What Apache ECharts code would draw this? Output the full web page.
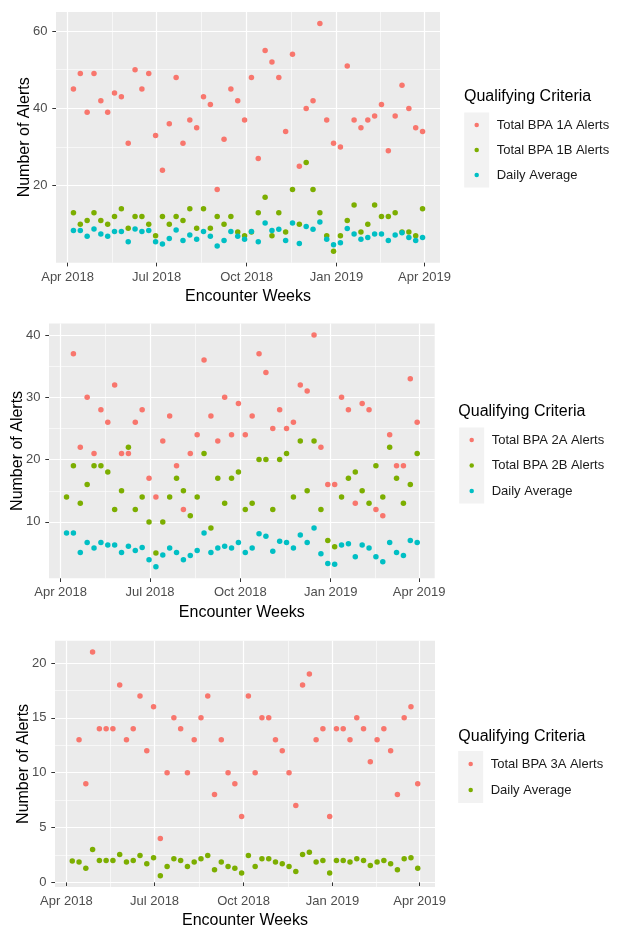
<!DOCTYPE html>
<html>
<head>
<meta charset="utf-8">
<script src="https://cdn.jsdelivr.net/npm/echarts@6/dist/echarts.min.js"></script>
<style>
html, body { margin: 0; padding: 0; background: #fff; }
#main { width: 617px; height: 930px; }
</style>
</head>
<body>
<div id="main"></div>
<script>
// weekly encounter dates (same for all three charts)
var weeks = [
    '2018-04-07','2018-04-14','2018-04-21','2018-04-28',
    '2018-05-05','2018-05-12','2018-05-19','2018-05-26',
    '2018-06-02','2018-06-09','2018-06-16','2018-06-23','2018-06-30',
    '2018-07-07','2018-07-14','2018-07-21','2018-07-28',
    '2018-08-04','2018-08-11','2018-08-18','2018-08-25',
    '2018-09-01','2018-09-08','2018-09-15','2018-09-22','2018-09-29',
    '2018-10-06','2018-10-13','2018-10-20','2018-10-27',
    '2018-11-03','2018-11-10','2018-11-17','2018-11-24',
    '2018-12-01','2018-12-08','2018-12-15','2018-12-22','2018-12-29',
    '2019-01-05','2019-01-12','2019-01-19','2019-01-26',
    '2019-02-02','2019-02-09','2019-02-16','2019-02-23',
    '2019-03-02','2019-03-09','2019-03-16','2019-03-23','2019-03-30'
];

// chart 1
var bpa1A = [45,49,39,49,42,39,44,43,31,50,45,49,33,24,36,48,31,37,35,43,41,19,32,
             45,42,37,48,27,55,52,48,34,54,25,40,42,62,37,31,30,51,37,35,37,38,41,29,38,46,40,35,34];
var bpa1B = [13,10,11,13,11,10,12,14,9,12,12,10,7,12,10,12,11,14,9,14,9,12,10,
             12,8,7,8,13,17,7,13,8,19,10,26,19,13,7,3,7,11,15,8,10,15,12,12,13,8,8,7,14];
var avg1  = [8.4,8.4,6.9,8.8,7.5,6.9,8.1,8.1,5.5,8.8,8.1,8.4,5.5,4.9,6.3,8.5,5.8,7.2,6.1,8.1,6.9,4.4,5.8,
             8.1,6.9,6.1,8.1,5.5,10.3,8.4,8.7,5.8,10.3,5.0,9.4,8.7,10.6,6.1,4.7,5.2,8.9,7.5,6.1,6.6,7.5,7.5,5.8,7.2,7.8,6.6,5.8,6.6];

// chart 2
var bpa2A = [null,37,22,30,21,28,26,32,21,21,26,28,17,14,23,27,19,12,21,24,36,27,23,
             30,24,29,24,27,37,34,25,28,25,26,32,31,40,22,16,16,30,28,13,29,28,12,11,24,19,19,33,26];
var bpa2B = [14,19,13,16,19,19,18,12,15,22,12,14,10,5,10,14,17,15,11,14,21,9,17,
             13,17,18,12,13,20,20,12,20,21,14,23,15,23,12,7,6,14,17,18,15,13,19,14,22,17,13,16,21];
var avg2  = [8.2,8.2,5.1,6.7,5.8,6.7,6.3,6.3,5.1,6.1,5.4,5.9,3.9,2.8,4.7,5.8,5.1,3.9,4.6,5.4,8.2,5.1,5.8,
             6.1,5.8,6.7,5.1,5.8,8.1,7.7,5.3,6.9,6.7,5.8,7.9,6.7,9.0,4.9,3.3,3.2,6.3,6.5,4.4,6.3,5.8,4.4,3.6,6.7,5.1,4.6,7.0,6.7];

// chart 3
var bpa3A = [null,13,9,21,14,14,14,18,13,14,17,12,16,4,10,15,14,10,13,15,17,8,13,
             10,9,6,17,10,15,15,13,12,10,7,18,19,13,14,6,14,14,13,15,14,11,13,14,12,8,15,16,9];
var avg3  = [1.95,1.85,1.3,3.0,2.0,2.0,2.0,2.55,1.85,2.0,2.45,1.7,2.25,0.6,1.45,2.15,2.0,1.45,1.85,2.15,2.45,1.15,1.85,
             1.45,1.3,0.85,2.45,1.45,2.15,2.15,1.85,1.7,1.45,1.0,2.55,2.75,1.85,2.0,0.85,2.0,2.0,1.85,2.15,2.0,1.55,1.85,2.0,1.7,1.15,2.15,2.25,1.3];

// axis breaks
var xBreaks = ['2018-04-01','2018-07-01','2018-10-01','2019-01-01','2019-04-01'];
var yBreaks1 = [20,40,60];
var yBreaks2 = [10,20,30,40];
var yBreaks3 = [0,5,10,15,20];

var months = ['Jan','Feb','Mar','Apr','May','Jun','Jul','Aug','Sep','Oct','Nov','Dec'];
var RED = '#F8766D', GREEN = '#7CAE00', TEAL = '#00BFC4';

function ts(s) {
    var p = s.split('-');
    return Date.UTC(+p[0], p[1] - 1, +p[2]);
}
function fmtDate(v) {
    var d = new Date(v);
    return months[d.getUTCMonth()] + ' ' + d.getUTCFullYear();
}
function mids(arr) {
    var out = [];
    for (var i = 0; i < arr.length - 1; i++) out.push((arr[i] + arr[i + 1]) / 2);
    return out;
}
function pairs(vals) {
    var out = [];
    for (var i = 0; i < weeks.length; i++) {
        if (vals[i] != null) out.push([ts(weeks[i]), vals[i]]);
    }
    return out;
}

var xMajor = xBreaks.map(ts);
var xMinor = mids(xMajor);
var t0 = ts(weeks[0]), t1 = ts(weeks[weeks.length - 1]);
var xMin = t0 - (t1 - t0) * 0.05, xMax = t1 + (t1 - t0) * 0.05;

// dot = centre x of the legend symbols
var panels = [
    {
        grid: {left: 56, top: 12, width: 384, height: 250.7},
        yBreaks: yBreaks1,
        series: [['Total BPA 1A Alerts', bpa1A, RED], ['Total BPA 1B Alerts', bpa1B, GREEN], ['Daily Average', avg1, TEAL]],
        legend: {dot: 476.7, top: 117, gap: 9},
        ltitle: {left: 464, top: 89},
        key: [464.2, 112.5, 25, 75]
    },
    {
        grid: {left: 49, top: 323.5, width: 385.7, height: 254.8},
        yBreaks: yBreaks2,
        series: [['Total BPA 2A Alerts', bpa2A, RED], ['Total BPA 2B Alerts', bpa2B, GREEN], ['Daily Average', avg2, TEAL]],
        legend: {dot: 471.7, top: 432, gap: 9.5},
        ltitle: {left: 458.3, top: 403.5},
        key: [459.2, 427.5, 25, 76]
    },
    {
        grid: {left: 55, top: 640.8, width: 380, height: 248.5},
        yBreaks: yBreaks3,
        series: [['Total BPA 3A Alerts', bpa3A, RED], ['Daily Average', avg3, GREEN]],
        legend: {dot: 470.7, top: 756, gap: 10},
        ltitle: {left: 458.3, top: 728.5},
        key: [458.2, 751, 25, 52]
    }
];

var grids = [], xAxes = [], yAxes = [], series = [], legends = [], titles = [], graphics = [];

panels.forEach(function (p, i) {
    var lo = Infinity, hi = -Infinity;
    p.series.forEach(function (s) {
        s[1].forEach(function (v) {
            if (v == null) return;
            if (v < lo) lo = v;
            if (v > hi) hi = v;
        });
    });
    var yMin = lo - (hi - lo) * 0.05, yMax = hi + (hi - lo) * 0.05;

    grids.push({
        left: p.grid.left, top: p.grid.top, width: p.grid.width, height: p.grid.height,
        show: true, backgroundColor: '#EBEBEB', borderWidth: 0
    });

    xAxes.push({
        type: 'value', gridIndex: i, min: xMin, max: xMax,
        axisLine: {show: false},
        axisTick: {show: true, length: 3.7, lineStyle: {color: '#333333', width: 1}, customValues: xMajor},
        axisLabel: {customValues: xMajor, formatter: fmtDate, color: '#4D4D4D', fontSize: 13, margin: 8},
        splitLine: {show: true, lineStyle: {color: '#FFFFFF', width: 1.2}},
        name: 'Encounter Weeks', nameLocation: 'middle', nameGap: 26, nameMoveOverlap: false,
        nameTextStyle: {color: '#000', fontSize: 16}
    });
    xAxes.push({
        type: 'value', gridIndex: i, min: xMin, max: xMax,
        axisLine: {show: false},
        axisTick: {show: false, customValues: xMinor},
        axisLabel: {show: false, customValues: xMinor},
        splitLine: {show: true, lineStyle: {color: '#FFFFFF', width: 0.6}}
    });

    yAxes.push({
        type: 'value', gridIndex: i, min: yMin, max: yMax, position: 'left',
        axisLine: {show: false},
        axisTick: {show: true, length: 3.7, lineStyle: {color: '#333333', width: 1}, customValues: p.yBreaks},
        axisLabel: {customValues: p.yBreaks, color: '#4D4D4D', fontSize: 13, margin: 8.5},
        splitLine: {show: true, lineStyle: {color: '#FFFFFF', width: 1.2}},
        name: 'Number of Alerts', nameLocation: 'middle', nameGap: 23, nameMoveOverlap: false,
        nameTextStyle: {color: '#000', fontSize: 16}
    });
    yAxes.push({
        type: 'value', gridIndex: i, min: yMin, max: yMax, position: 'left',
        axisLine: {show: false},
        axisTick: {show: false, customValues: mids(p.yBreaks)},
        axisLabel: {show: false, customValues: mids(p.yBreaks)},
        splitLine: {show: true, lineStyle: {color: '#FFFFFF', width: 0.6}}
    });

    var legendData = [];
    p.series.forEach(function (s) {
        series.push({
            name: s[0], type: 'scatter',
            xAxisIndex: i * 2, yAxisIndex: i * 2,
            data: pairs(s[1]),
            symbolSize: 5.5,
            itemStyle: {color: s[2], opacity: 1},
            silent: true
        });
        legendData.push({name: s[0], itemStyle: {color: s[2]}});
    });

    legends.push({
        orient: 'vertical', left: p.legend.dot - 2.25, top: p.legend.top,
        itemWidth: 4.5, itemHeight: 4.5, itemGap: p.legend.gap, padding: 0,
        icon: 'circle', selectedMode: false,
        textStyle: {fontSize: 13, color: '#1A1A1A', lineHeight: 16, padding: [0, 0, 0, 12.75]},
        data: legendData
    });

    titles.push({
        text: 'Qualifying Criteria', left: p.ltitle.left, top: p.ltitle.top, padding: 0,
        textStyle: {fontSize: 16, fontWeight: 'normal', color: '#000', lineHeight: 16}
    });

    // grey key boxes behind legend symbols
    graphics.push({
        type: 'rect', left: p.key[0], top: p.key[1],
        shape: {width: p.key[2], height: p.key[3]},
        style: {fill: '#F2F2F2'}, silent: true
    });
});

var chart = echarts.init(document.getElementById('main'));
chart.setOption({
    animation: false,
    backgroundColor: '#FFFFFF',
    textStyle: {fontFamily: 'Liberation Sans, Arial, sans-serif'},
    title: titles,
    legend: legends,
    grid: grids,
    xAxis: xAxes,
    yAxis: yAxes,
    graphic: graphics,
    series: series
});
</script>
</body>
</html>
